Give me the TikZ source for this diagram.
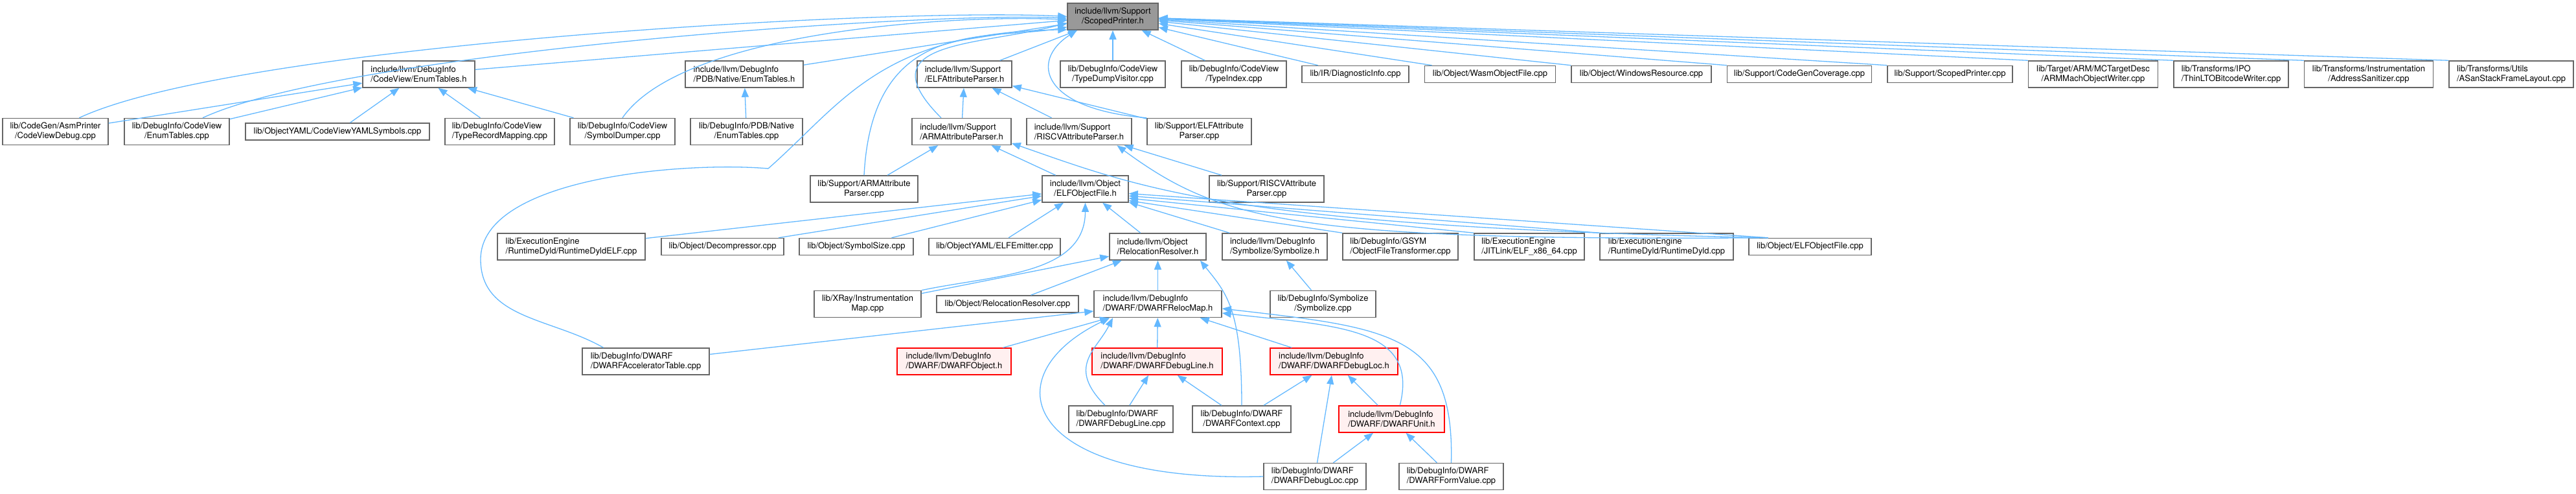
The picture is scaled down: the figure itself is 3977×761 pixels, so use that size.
\documentclass[tikz,border=0pt]{standalone}
\usepackage{fontspec}
\setmainfont{TeX Gyre Heros}
\usetikzlibrary{arrows.meta,positioning}
\definecolor{edgeblue}{RGB}{99,184,255}
\definecolor{boxgrey}{RGB}{102,102,102}
\definecolor{maingrey}{RGB}{153,153,153}
\definecolor{cutfill}{RGB}{255,240,240}

\begin{document}
\begin{tikzpicture}[
    x=1pt, y=1pt,
    >={Triangle[length=14pt,width=11pt]},
    filebox/.style={draw=boxgrey, fill=white, line width=1.5pt, align=center, inner sep=2pt, minimum height=41pt, font=\fontsize{13pt}{15pt}\selectfont},
    one line/.style={minimum height=26pt},
    mainbox/.style={filebox, fill=maingrey},
    cutbox/.style={filebox, draw=red, fill=cutfill},
    incl/.style={->, draw=edgeblue, line width=1.3pt}
]
    \useasboundingbox (0,0) rectangle (3977,-761);

    % Header that is documented
    \node[mainbox, minimum width=140pt] (sp) at (1718,-25.5) {include/llvm/Support\\/ScopedPrinter.h};

    % Row 1
    \node[filebox, minimum width=173pt, align=left] (cveh) at (646.5,-114.5) {include/llvm/DebugInfo\\/CodeView/EnumTables.h};
    \node[filebox, minimum width=182pt, align=left] (pdbh) at (1149,-114.5) {include/llvm/DebugInfo\\/PDB/Native/EnumTables.h};
    \node[filebox, minimum width=146pt, align=left] (elfattrh) at (1489,-114.5) {include/llvm/Support\\/ELFAttributeParser.h};
    \node[filebox, minimum width=162pt] (tdv) at (1718,-114.5) {lib/DebugInfo/CodeView\\/TypeDumpVisitor.cpp};
    \node[filebox, minimum width=162pt] (tidx) at (1905,-114.5) {lib/DebugInfo/CodeView\\/TypeIndex.cpp};
    \node[filebox, one line, minimum width=165pt] (diag) at (2092.5,-114.5) {lib/IR/DiagnosticInfo.cpp};
    \node[filebox, one line, minimum width=202pt, right=23pt of diag] (wasm) {lib/Object/WasmObjectFile.cpp};
    \node[filebox, one line, minimum width=216pt, right=23pt of wasm] (winres) {lib/Object/WindowsResource.cpp};
    \node[filebox, one line, minimum width=223pt, right=23pt of winres] (cgcov) {lib/Support/CodeGenCoverage.cpp};
    \node[filebox, one line, minimum width=193pt, right=23pt of cgcov] (spcpp) {lib/Support/ScopedPrinter.cpp};
    \node[filebox, minimum width=200pt, right=23pt of spcpp] (armmach) {lib/Target/ARM/MCTargetDesc\\/ARMMachObjectWriter.cpp};
    \node[filebox, minimum width=177pt, align=left, right=23pt of armmach] (thinlto) {lib/Transforms/IPO\\/ThinLTOBitcodeWriter.cpp};
    \node[filebox, minimum width=199pt, right=23pt of thinlto] (asan) {lib/Transforms/Instrumentation\\/AddressSanitizer.cpp};
    \node[filebox, minimum width=192pt, align=left, right=23pt of asan] (asanframe) {lib/Transforms/Utils\\/ASanStackFrameLayout.cpp};

    % Row 2
    \node[filebox, minimum width=163pt] (cvdebug) at (85.5,-203) {lib/CodeGen/AsmPrinter\\/CodeViewDebug.cpp};
    \node[filebox, minimum width=162pt] (cvetcpp) at (273,-203) {lib/DebugInfo/CodeView\\/EnumTables.cpp};
    \node[filebox, one line, minimum width=284pt] (cvyaml) at (521,-203) {lib/ObjectYAML/CodeViewYAMLSymbols.cpp};
    \node[filebox, minimum width=169pt, align=left] (trm) at (771.5,-203) {lib/DebugInfo/CodeView\\/TypeRecordMapping.cpp};
    \node[filebox, minimum width=162pt] (symdump) at (961,-203) {lib/DebugInfo/CodeView\\/SymbolDumper.cpp};
    \node[filebox, minimum width=173pt] (pdbcpp) at (1152.5,-203) {lib/DebugInfo/PDB/Native\\/EnumTables.cpp};
    \node[filebox, minimum width=153pt, align=left] (armattrh) at (1484.5,-203) {include/llvm/Support\\/ARMAttributeParser.h};
    \node[filebox, minimum width=162pt, align=left] (riscvh) at (1666,-203) {include/llvm/Support\\/RISCVAttributeParser.h};
    \node[filebox, minimum width=161pt] (elfattrcpp) at (1851.5,-203) {lib/Support/ELFAttribute\\Parser.cpp};

    % Row 3
    \node[filebox, minimum width=166pt] (armattrcpp) at (1334,-291.5) {lib/Support/ARMAttribute\\Parser.cpp};
    \node[filebox, minimum width=133pt] (elfobjh) at (1675.5,-291.5) {include/llvm/Object\\/ELFObjectFile.h};
    \node[filebox, minimum width=177pt] (riscvcpp) at (1955.5,-291.5) {lib/Support/RISCVAttribute\\Parser.cpp};

    % Row 4
    \node[filebox, minimum width=228pt, align=left] (rdelf) at (882,-380.5) {lib/ExecutionEngine\\/RuntimeDyld/RuntimeDyldELF.cpp};
    \node[filebox, one line, minimum width=189pt] (decomp) at (1115.5,-380.5) {lib/Object/Decompressor.cpp};
    \node[filebox, one line, minimum width=176pt] (symsize) at (1322,-380.5) {lib/Object/SymbolSize.cpp};
    \node[filebox, one line, minimum width=203pt] (elfemit) at (1535.5,-380.5) {lib/ObjectYAML/ELFEmitter.cpp};
    \node[filebox, minimum width=149pt, align=left] (relresh) at (1787.5,-380.5) {include/llvm/Object\\/RelocationResolver.h};
    \node[filebox, minimum width=162pt, align=left] (symbh) at (1968,-380.5) {include/llvm/DebugInfo\\/Symbolize/Symbolize.h};
    \node[filebox, minimum width=178pt, align=left] (gsym) at (2162,-380.5) {lib/DebugInfo/GSYM\\/ObjectFileTransformer.cpp};
    \node[filebox, minimum width=170pt, align=left] (jitlink) at (2361,-380.5) {lib/ExecutionEngine\\/JITLink/ELF\_x86\_64.cpp};
    \node[filebox, minimum width=206pt, align=left] (rdcpp) at (2573,-380.5) {lib/ExecutionEngine\\/RuntimeDyld/RuntimeDyld.cpp};
    \node[filebox, one line, minimum width=189pt] (elfobjcpp) at (2794.5,-380.5) {lib/Object/ELFObjectFile.cpp};

    % Row 5
    \node[filebox, minimum width=165pt] (xray) at (1339.5,-469) {lib/XRay/Instrumentation\\Map.cpp};
    \node[filebox, one line, minimum width=219pt] (objrelcpp) at (1555.5,-469) {lib/Object/RelocationResolver.cpp};
    \node[filebox, minimum width=197pt, align=left] (relmaph) at (1787.5,-469) {include/llvm/DebugInfo\\/DWARF/DWARFRelocMap.h};
    \node[filebox, minimum width=163pt] (symbcpp) at (2042.5,-469) {lib/DebugInfo/Symbolize\\/Symbolize.cpp};

    % Row 6
    \node[filebox, minimum width=196pt, align=left] (accel) at (997,-557.5) {lib/DebugInfo/DWARF\\/DWARFAcceleratorTable.cpp};
    \node[cutbox, minimum width=176pt, align=left] (dwobjh) at (1473,-557.5) {include/llvm/DebugInfo\\/DWARF/DWARFObject.h};
    \node[cutbox, minimum width=201pt, align=left] (dwlineh) at (1786.5,-557.5) {include/llvm/DebugInfo\\/DWARF/DWARFDebugLine.h};
    \node[cutbox, minimum width=197pt, align=left] (dwloch) at (2059.5,-557.5) {include/llvm/DebugInfo\\/DWARF/DWARFDebugLoc.h};

    % Row 7
    \node[filebox, minimum width=161pt, align=left] (dwlinecpp) at (1730.5,-646.5) {lib/DebugInfo/DWARF\\/DWARFDebugLine.cpp};
    \node[filebox, minimum width=152pt] (dwctxcpp) at (1917,-646.5) {lib/DebugInfo/DWARF\\/DWARFContext.cpp};
    \node[cutbox, minimum width=163pt, align=left] (dwunith) at (2148.5,-646.5) {include/llvm/DebugInfo\\/DWARF/DWARFUnit.h};

    % Row 8
    \node[filebox, minimum width=158pt, align=left] (dwloccpp) at (2030,-735) {lib/DebugInfo/DWARF\\/DWARFDebugLoc.cpp};
    \node[filebox, minimum width=161pt, align=left] (dwformcpp) at (2240.5,-735) {lib/DebugInfo/DWARF\\/DWARFFormValue.cpp};

    % Bends of the long edge
    \coordinate (accelbend) at (742,-400);
    \coordinate (accelrise) at (1186,-260);

    % Includes of ScopedPrinter.h
    \foreach \c in {cveh,pdbh,elfattrh,tdv,tidx,diag,wasm}
        \draw[incl] (\c) -- (sp);
    \foreach \c in {winres,cgcov,spcpp,armmach,thinlto,asan,asanframe}
        \draw[incl] (\c.north west) -- (sp);
    \draw[incl] (cvdebug.30) .. controls +(245,114) and +(-270,14) .. (sp.west);
    \draw[incl] (cvetcpp.28) .. controls +(215,100) and +(-237,10) .. (sp.182);
    \draw[incl] (symdump.north) .. controls +(95,136) and +(-165,8) .. (sp.184);
    \draw[incl] (armattrh.146) .. controls +(-120,120) and +(-136,-36) .. (sp.188);
    \draw[incl] (armattrcpp.north) .. controls +(13,246) and +(-121,-21) .. (sp.193);
    \draw[incl] (elfattrcpp.north west) .. controls +(-161,13) and +(-74,-48) .. (sp.201);
    \draw[incl] (accel.162) .. controls +(-80,46) and +(0,-92) .. (accelbend)
        .. controls +(0,127) and +(-127,11) .. (accelrise)
        .. controls +(114,100) and +(-288,-4) .. (sp.196);

    % CodeView and PDB tables
    \foreach \c in {cvdebug,cvetcpp,cvyaml,trm,symdump}
        \draw[incl] (\c) -- (cveh);
    \draw[incl] (pdbcpp) -- (pdbh);

    % Attribute parsers
    \foreach \c in {armattrh,riscvh,elfattrcpp}
        \draw[incl] (\c) -- (elfattrh);
    \foreach \c in {armattrcpp,elfobjh}
        \draw[incl] (\c) -- (armattrh);
    \draw[incl] (riscvcpp) -- (riscvh);
    \draw[incl] (elfobjcpp.168) .. controls +(-833,17) and +(199,-69) .. (armattrh.-13);
    \draw[incl] (elfobjcpp.168) .. controls +(-733,-5) and +(160,-117) .. (riscvh.-20);

    % ELFObjectFile.h
    \foreach \c in {rdelf,decomp,symsize,elfemit,relresh,symbh}
        \draw[incl] (\c) -- (elfobjh);
    \draw[incl] (xray.north east) to[out=12, in=-90] (elfobjh.south);
    \draw[incl] (gsym.north west) -- (elfobjh.-15);
    \draw[incl] (jitlink.north west) -- (elfobjh.-12);
    \draw[incl] (rdcpp.north west) -- (elfobjh.-9);
    \draw[incl] (elfobjcpp.168) -- (elfobjh.-6);

    % RelocationResolver.h and Symbolize.h
    \foreach \c in {xray,objrelcpp,relmaph}
        \draw[incl] (\c) -- (relresh);
    \draw[incl] (dwctxcpp.north) .. controls +(0,150) and +(40,-50) .. (relresh.-18);
    \draw[incl] (symbcpp) -- (symbh);

    % DWARF
    \foreach \c in {accel,dwobjh,dwlineh,dwloch}
        \draw[incl] (\c) -- (relmaph);
    \draw[incl] (dwlinecpp.139) .. controls +(-60,60) and +(-25,-50) .. (relmaph.197);
    \draw[incl] (dwloccpp.west) .. controls +(-371,-10) and +(-186,-90) .. (relmaph.196);
    \draw[incl] (dwunith.59) .. controls +(30,120) and +(180,-20) .. (relmaph.-8);
    \draw[incl] (dwformcpp.north) .. controls +(5,200) and +(260,-30) .. (relmaph.-4);
    \foreach \c in {dwlinecpp,dwctxcpp}
        \draw[incl] (\c) -- (dwlineh);
    \foreach \c in {dwctxcpp,dwloccpp,dwunith}
        \draw[incl] (\c) -- (dwloch);
    \foreach \c in {dwloccpp,dwformcpp}
        \draw[incl] (\c) -- (dwunith);
\end{tikzpicture}
\end{document}
